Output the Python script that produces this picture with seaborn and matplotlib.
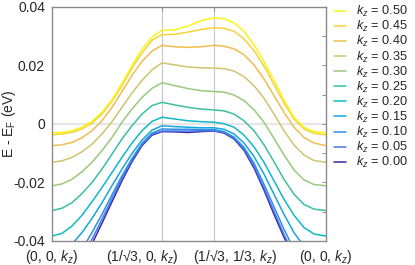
import numpy as np
import pandas as pd
import matplotlib
matplotlib.use("Agg")
import matplotlib.pyplot as plt
import matplotlib.transforms as mtransforms
import seaborn as sns
from matplotlib.lines import Line2D

# ---------------- data ----------------
# path coordinate (Gamma -> M -> K -> Gamma), arbitrary units along the k-path
k_path = [0.00, 0.10, 0.20, 0.30, 0.40, 0.50, 0.60, 0.70, 0.80, 0.90, 1.00, 1.10,
          1.23, 1.36, 1.49, 1.62,
          1.72, 1.82, 1.92, 2.02, 2.12, 2.22, 2.32, 2.42, 2.52, 2.62, 2.74]
tick_pos = [0.00, 1.10, 1.62, 2.74]
tick_labels = [r"(0, 0, $k_z$)", r"(1/√3, 0, $k_z$)", r"(1/√3, 1/3, $k_z$)", r"(0, 0, $k_z$)"]

kz_values = ["0.00", "0.05", "0.10", "0.15", "0.20", "0.25", "0.30", "0.35", "0.40", "0.45", "0.50"]

E_kz000 = [-0.0571, -0.0554, -0.0520, -0.0472, -0.0410, -0.0339, -0.0266, -0.0194, -0.0129, -0.0074, -0.0038, -0.0026,
           -0.0027, -0.0029, -0.0026, -0.0024,
           -0.0031, -0.0051, -0.0090, -0.0150, -0.0226, -0.0309, -0.0387, -0.0459, -0.0520, -0.0560, -0.0571]
E_kz005 = [-0.0560, -0.0541, -0.0505, -0.0457, -0.0394, -0.0326, -0.0255, -0.0186, -0.0123, -0.0071, -0.0035, -0.0024,
           -0.0024, -0.0024, -0.0023, -0.0023,
           -0.0029, -0.0048, -0.0086, -0.0143, -0.0218, -0.0299, -0.0378, -0.0449, -0.0509, -0.0549, -0.0560]
E_kz010 = [-0.0531, -0.0509, -0.0474, -0.0429, -0.0371, -0.0309, -0.0242, -0.0177, -0.0118, -0.0066, -0.0031, -0.0017,
           -0.0018, -0.0018, -0.0019, -0.0019,
           -0.0026, -0.0045, -0.0080, -0.0134, -0.0206, -0.0283, -0.0360, -0.0429, -0.0486, -0.0522, -0.0531]
E_kz015 = [-0.0463, -0.0440, -0.0411, -0.0371, -0.0323, -0.0269, -0.0211, -0.0154, -0.0101, -0.0055, -0.0021, -0.0006,
           -0.0009, -0.0011, -0.0013, -0.0013,
           -0.0018, -0.0034, -0.0065, -0.0111, -0.0171, -0.0240, -0.0309, -0.0371, -0.0419, -0.0451, -0.0463]
E_kz020 = [-0.0383, -0.0374, -0.0349, -0.0312, -0.0266, -0.0217, -0.0166, -0.0114, -0.0065, -0.0023, 0.0009, 0.0023,
           0.0017, 0.0011, 0.0008, 0.0006,
           0.0001, -0.0011, -0.0038, -0.0078, -0.0131, -0.0194, -0.0257, -0.0312, -0.0354, -0.0376, -0.0383]
E_kz025 = [-0.0296, -0.0288, -0.0269, -0.0238, -0.0200, -0.0154, -0.0103, -0.0051, -0.0006, 0.0034, 0.0063, 0.0074,
           0.0065, 0.0057, 0.0051, 0.0048,
           0.0045, 0.0034, 0.0011, -0.0023, -0.0071, -0.0129, -0.0189, -0.0240, -0.0275, -0.0291, -0.0296]
E_kz030 = [-0.0211, -0.0205, -0.0189, -0.0163, -0.0131, -0.0091, -0.0046, 0.0006, 0.0051, 0.0091, 0.0122, 0.0141,
           0.0131, 0.0121, 0.0114, 0.0111,
           0.0109, 0.0099, 0.0080, 0.0049, 0.0006, -0.0049, -0.0106, -0.0157, -0.0191, -0.0207, -0.0211]
E_kz035 = [-0.0131, -0.0126, -0.0114, -0.0095, -0.0069, -0.0034, 0.0008, 0.0057, 0.0106, 0.0149, 0.0185, 0.0209,
           0.0202, 0.0195, 0.0192, 0.0191,
           0.0189, 0.0181, 0.0162, 0.0131, 0.0088, 0.0034, -0.0023, -0.0072, -0.0106, -0.0125, -0.0131]
E_kz040 = [-0.0074, -0.0071, -0.0063, -0.0047, -0.0023, 0.0011, 0.0057, 0.0111, 0.0166, 0.0214, 0.0249, 0.0269,
           0.0264, 0.0262, 0.0264, 0.0269,
           0.0266, 0.0257, 0.0237, 0.0202, 0.0154, 0.0097, 0.0040, -0.0011, -0.0046, -0.0065, -0.0074]
E_kz045 = [-0.0037, -0.0034, -0.0029, -0.0017, 0.0003, 0.0034, 0.0078, 0.0131, 0.0191, 0.0243, 0.0286, 0.0305,
           0.0307, 0.0314, 0.0323, 0.0329,
           0.0327, 0.0317, 0.0291, 0.0251, 0.0198, 0.0135, 0.0072, 0.0017, -0.0017, -0.0032, -0.0037]
E_kz050 = [-0.0030, -0.0029, -0.0023, -0.0011, 0.0009, 0.0040, 0.0083, 0.0139, 0.0200, 0.0255, 0.0297, 0.0320,
           0.0322, 0.0335, 0.0353, 0.0363,
           0.0360, 0.0346, 0.0317, 0.0271, 0.0214, 0.0149, 0.0082, 0.0023, -0.0011, -0.0026, -0.0030]

y_ticks = [-0.04, -0.02, 0.0, 0.02, 0.04]
y_tick_labels = ["-0.04", "-0.02", "0", "0.02", "0.04"]

# ---------------- style ----------------
sns.set_style("white")
plt.rcParams["font.family"] = ["Liberation Sans", "DejaVu Sans"]
plt.rcParams["mathtext.fontset"] = "custom"
plt.rcParams["mathtext.rm"] = "Liberation Sans"
plt.rcParams["mathtext.it"] = "Liberation Sans:italic"

palette = ["#3e26a8", "#4479e6", "#2d8ee8", "#17a6dc", "#0fb8c8", "#3cbf9c",
           "#9ac97c", "#cfc46e", "#f0bd4f", "#f7d23a", "#f9f516"]

series = [E_kz000, E_kz005, E_kz010, E_kz015, E_kz020, E_kz025,
          E_kz030, E_kz035, E_kz040, E_kz045, E_kz050]
rows = []
for kz, E in zip(kz_values, series):
    for k, e in zip(k_path, E):
        rows.append({"k": k, "E": e, "kz": kz})
df = pd.DataFrame(rows)

fig = plt.figure(figsize=(4.15, 2.65), dpi=100)
ax = fig.add_axes([0.1253, 0.0906, 0.6602, 0.883])

# reference lines
ax.axhline(0, color="#e6e6e6", lw=1.6, zorder=0)
for xp in tick_pos[1:3]:
    ax.axvline(xp, color="#c8c8c8", lw=0.8, zorder=0)

sns.lineplot(data=df, x="k", y="E", hue="kz", hue_order=kz_values,
             palette=palette, linewidth=1.1, legend=False, ax=ax, sort=False)

ax.set_xlim(tick_pos[0], tick_pos[-1])
ax.set_ylim(-0.04, 0.04)
ax.set_xticks(tick_pos)
ax.set_xticklabels(tick_labels)
ax.set_yticks(y_ticks)
ax.set_yticklabels(y_tick_labels)
ax.set_yticks([-0.03, -0.01, 0.01, 0.03], minor=True)
ax.tick_params(axis="both", which="both", direction="in", length=3, width=0.6,
               color="#808080", labelsize=10, top=True, right=True)
ax.tick_params(axis="y", pad=5)
ax.tick_params(axis="x", pad=5)
for sp in ax.spines.values():
    sp.set_color("#8a8a8a")
    sp.set_linewidth(1.0)

# shift the two crowded middle labels apart
xlabels = ax.get_xticklabels()
shifts = [0.0, -0.20, 0.21, 0.0]
for lab, dx in zip(xlabels, shifts):
    if dx:
        lab.set_transform(lab.get_transform() +
                          mtransforms.ScaledTranslation(dx, 0, fig.dpi_scale_trans))

ax.set_xlabel("")
ax.set_ylabel(r"E - E$_\mathregular{F}$ (eV)", fontsize=10)
ax.yaxis.set_label_coords(-0.123, 0.5)

handles = [Line2D([0], [0], color=c, lw=1.1) for c in palette][::-1]
labels = [rf"$k_z$ = {v}" for v in kz_values][::-1]
ax.legend(handles, labels, loc="upper left", bbox_to_anchor=(1.03, 1.012),
          frameon=False, fontsize=9.2, handlelength=0.95, handletextpad=0.75,
          labelspacing=0.0, borderaxespad=0.0, borderpad=0.0)

fig.savefig("out.png", dpi=100)
